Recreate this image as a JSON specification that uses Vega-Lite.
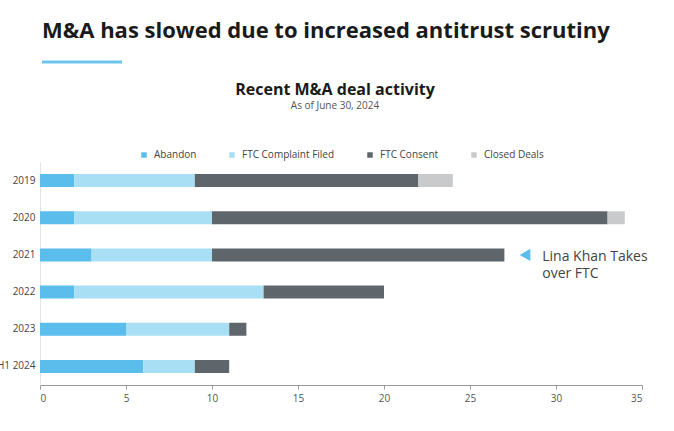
{
  "$schema": "https://vega.github.io/schema/vega-lite/v6.json",
  "background": "white",
  "padding": {"left": -4, "top": 19, "right": 20, "bottom": 25},
  "config": {"font": "Open Sans", "view": {"stroke": null}},
  "title": {
    "text": "M&A has slowed due to increased antitrust scrutiny",
    "anchor": "start",
    "frame": "group",
    "fontSize": 22,
    "fontWeight": "bold",
    "color": "#1a1a1a",
    "dx": 2,
    "offset": 18
  },
  "spacing": 18,
  "bounds": "full",
  "resolve": {"scale": {"color": "independent"}, "legend": {"color": "independent"}},
  "vconcat": [
    {
      "width": 83,
      "height": 2,
      "data": {"values": [{"start": 2, "end": 82}]},
      "mark": {"type": "rule", "strokeWidth": 3, "color": "#6CC5EA"},
      "encoding": {
        "x": {"field": "start", "type": "quantitative", "scale": {"domain": [0, 83], "nice": false}, "axis": null},
        "x2": {"field": "end"}
      }
    },
    {
      "width": 602,
      "height": 223,
      "title": {
        "text": "Recent M&A deal activity",
        "subtitle": "As of June 30, 2024",
        "anchor": "middle",
        "frame": "group",
        "fontSize": 16,
        "fontWeight": "bold",
        "color": "#1a1a1a",
        "subtitleFontSize": 10,
        "subtitleColor": "#555",
        "subtitlePadding": 3,
        "dx": -6,
        "offset": 39
      },
      "layer": [
        {
          "data": {
            "values": [
              {"year": "2019", "category": "Abandon", "count": 2},
              {"year": "2019", "category": "FTC Complaint Filed", "count": 7},
              {"year": "2019", "category": "FTC Consent", "count": 13},
              {"year": "2019", "category": "Closed Deals", "count": 2},
              {"year": "2020", "category": "Abandon", "count": 2},
              {"year": "2020", "category": "FTC Complaint Filed", "count": 8},
              {"year": "2020", "category": "FTC Consent", "count": 23},
              {"year": "2020", "category": "Closed Deals", "count": 1},
              {"year": "2021", "category": "Abandon", "count": 3},
              {"year": "2021", "category": "FTC Complaint Filed", "count": 7},
              {"year": "2021", "category": "FTC Consent", "count": 17},
              {"year": "2021", "category": "Closed Deals", "count": 0},
              {"year": "2022", "category": "Abandon", "count": 2},
              {"year": "2022", "category": "FTC Complaint Filed", "count": 11},
              {"year": "2022", "category": "FTC Consent", "count": 7},
              {"year": "2022", "category": "Closed Deals", "count": 0},
              {"year": "2023", "category": "Abandon", "count": 5},
              {"year": "2023", "category": "FTC Complaint Filed", "count": 6},
              {"year": "2023", "category": "FTC Consent", "count": 1},
              {"year": "2023", "category": "Closed Deals", "count": 0},
              {"year": "H1 2024", "category": "Abandon", "count": 6},
              {"year": "H1 2024", "category": "FTC Complaint Filed", "count": 3},
              {"year": "H1 2024", "category": "FTC Consent", "count": 2},
              {"year": "H1 2024", "category": "Closed Deals", "count": 0}
            ]
          },
          "transform": [
            {"calculate": "indexof(['Abandon','FTC Complaint Filed','FTC Consent','Closed Deals'], datum.category)", "as": "stackOrder"}
          ],
          "mark": {"type": "bar"},
          "encoding": {
            "y": {
              "field": "year",
              "type": "ordinal",
              "sort": ["2019", "2020", "2021", "2022", "2023", "H1 2024"],
              "scale": {"paddingInner": 0.65, "paddingOuter": 0.325},
              "axis": {
                "title": null,
                "ticks": false,
                "domainColor": "#e3e3e3",
                "labelFontSize": 10,
                "labelColor": "#444",
                "labelPadding": 5
              }
            },
            "x": {
              "field": "count",
              "type": "quantitative",
              "stack": "zero",
              "scale": {"domain": [0, 35], "nice": false},
              "axis": {
                "title": null,
                "values": [0, 5, 10, 15, 20, 25, 30, 35],
                "grid": false,
                "domainColor": "#999",
                "tickColor": "#999",
                "tickSize": 4,
                "labelFontSize": 10,
                "labelColor": "#555",
                "labelPadding": 4
              }
            },
            "order": {"field": "stackOrder", "type": "quantitative"},
            "color": {
              "field": "category",
              "type": "nominal",
              "sort": ["Abandon", "FTC Complaint Filed", "FTC Consent", "Closed Deals"],
              "scale": {
                "domain": ["Abandon", "FTC Complaint Filed", "FTC Consent", "Closed Deals"],
                "range": ["#5BBDEB", "#A9DFF5", "#5E666C", "#C9CACC"]
              },
              "legend": {
                "title": null,
                "orient": "none",
                "direction": "horizontal",
                "legendX": 99,
                "legendY": -12,
                "symbolType": "square",
                "symbolSize": 30,
                "labelFontSize": 10,
                "labelColor": "#444",
                "columnPadding": 30,
                "labelOffset": 5
              }
            }
          }
        },
        {
          "data": {"values": [{"year": "2021", "pos": 28.2}]},
          "mark": {"type": "point", "shape": "triangle-left", "filled": true, "size": 150, "color": "#5BBDEB", "opacity": 1},
          "encoding": {
            "y": {"field": "year", "type": "ordinal"},
            "x": {"field": "pos", "type": "quantitative"}
          }
        },
        {
          "data": {"values": [{"year": "2021", "pos": 29.2, "note": ["Lina Khan Takes", "over FTC"]}]},
          "mark": {"type": "text", "align": "left", "baseline": "alphabetic", "dy": 6, "fontSize": 14, "lineHeight": 17, "color": "#444"},
          "encoding": {
            "y": {"field": "year", "type": "ordinal"},
            "x": {"field": "pos", "type": "quantitative"},
            "text": {"field": "note"}
          }
        }
      ]
    }
  ]
}
